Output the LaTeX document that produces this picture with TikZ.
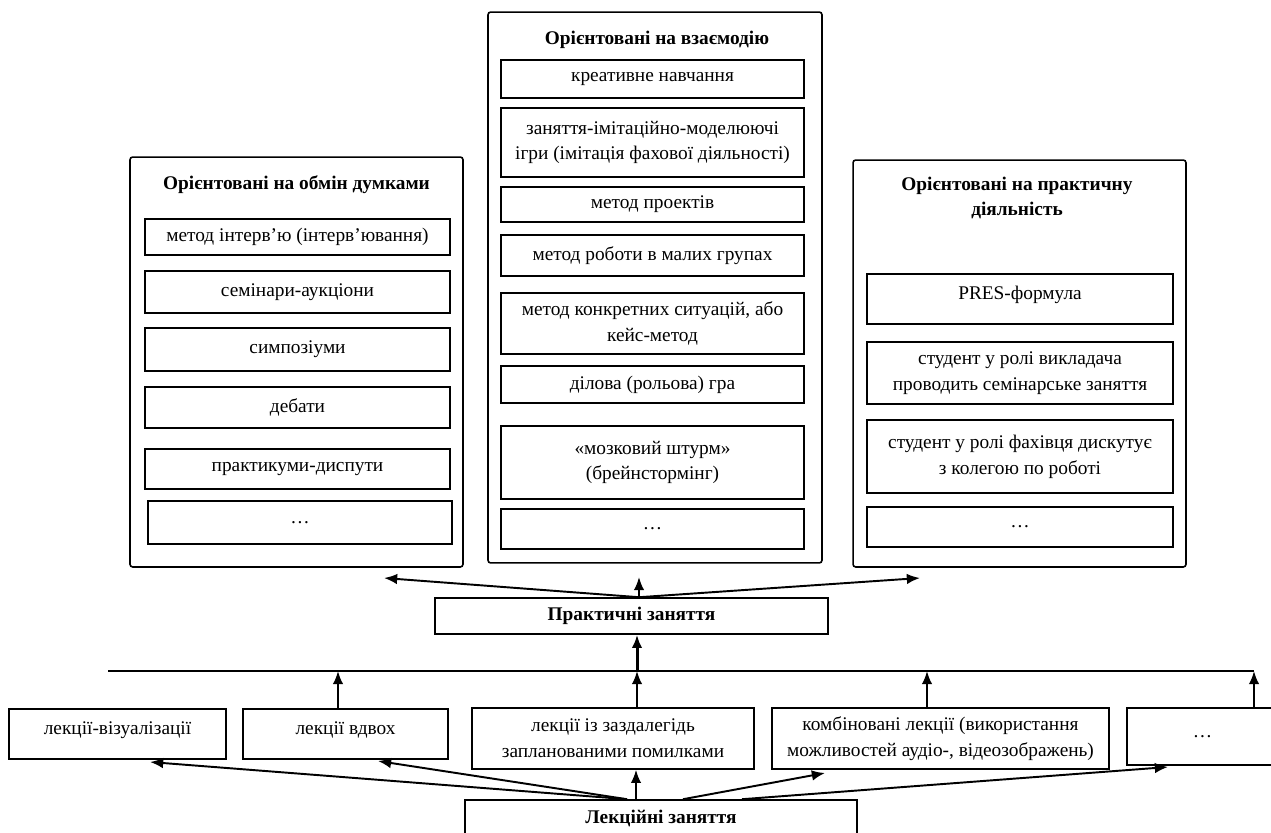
\documentclass[tikz,border=0pt]{standalone}
\usepackage{fontspec}
\setmainfont{Liberation Serif}
\usetikzlibrary{arrows.meta}
\newcommand\diagfont{\fontsize{11}{14.7}\selectfont}
\tikzset{
  group/.style={draw, line width=0.9pt, rounded corners=1.5pt},
  box/.style={draw, line width=0.9pt, inner sep=1pt},
  item/.style={box, align=center},
  upper/.style={text depth=7pt},
  head/.style={align=center, font=\diagfont\bfseries},
  arr/.style={-{Latex[length=7.5pt,width=6pt]}, line width=1.1pt},
}
\begin{document}
\begin{tikzpicture}[x=0.02cm, y=-0.02cm, font=\diagfont]
\useasboundingbox (0,0) rectangle (1271,832);

% Left column: exchange of opinions
\node[group, minimum width=6.66cm, minimum height=8.2cm] (obmin) at (296.5,362) {};
\node[head] (obminhead) at (296.5,185) {Орієнтовані на обмін думками};
\node[box, minimum width=6.1cm, minimum height=0.72cm] (interv) at (297.5,237) {метод інтерв'ю (інтерв'ювання)};
\node[box, minimum width=6.1cm, minimum height=0.84cm] (aukts) at (297.5,292) {семінари-аукціони};
\node[box, minimum width=6.1cm, minimum height=0.86cm] (symp) at (297.5,349.5) {симпозіуми};
\node[box, minimum width=6.1cm, minimum height=0.82cm] (debaty) at (297.5,407.5) {дебати};
\node[box, minimum width=6.1cm, minimum height=0.8cm] (dysp) at (297.5,469) {практикуми-диспути};
\node[box, minimum width=6.08cm, minimum height=0.86cm] (obdots) at (300,522.5) {\dots};

% Middle column: interaction
\node[group, minimum width=6.68cm, minimum height=11.02cm] (vzaem) at (655,287.5) {};
\node[head] (vzaemhead) at (657,40) {Орієнтовані на взаємодію};
\node[box, minimum width=6.06cm, minimum height=0.76cm] (kreat) at (652.5,79) {креативне навчання};
\node[item, minimum width=6.06cm, minimum height=1.38cm] (imit) at (652.5,142.5) {заняття-імітаційно-моделюючі\\ігри (імітація фахової діяльності)};
\node[box, minimum width=6.06cm, minimum height=0.7cm] (proekt) at (652.5,204.5) {метод проектів};
\node[box, minimum width=6.06cm, minimum height=0.82cm] (grupy) at (652.5,255.5) {метод роботи в малих групах};
\node[item, minimum width=6.06cm, minimum height=1.22cm] (keis) at (652.5,323.5) {метод конкретних ситуацій, або\\кейс-метод};
\node[box, minimum width=6.06cm, minimum height=0.74cm] (rol) at (652.5,384.5) {ділова (рольова) гра};
\node[item, minimum width=6.06cm, minimum height=1.46cm] (shturm) at (652.5,462.5) {«мозковий штурм»\\(брейнстормінг)};
\node[box, minimum width=6.06cm, minimum height=0.8cm] (vzdots) at (652.5,529) {\dots};

% Right column: practical activity
\node[group, minimum width=6.66cm, minimum height=8.14cm] (diial) at (1019.5,363.5) {};
\node[head] (diialhead) at (1017,198) {Орієнтовані на практичну\\діяльність};
\node[box, upper, minimum width=6.12cm, minimum height=1cm] (pres) at (1020,299) {PRES-формула};
\node[item, minimum width=6.12cm, minimum height=1.24cm] (vykl) at (1020,373) {студент у ролі викладача\\проводить семінарське заняття};
\node[item, minimum width=6.12cm, minimum height=1.46cm] (fakh) at (1020,456.5) {студент у ролі фахівця дискутує\\з колегою по роботі};
\node[box, minimum width=6.12cm, minimum height=0.8cm] (diadots) at (1020,527) {\dots};

% Practical classes
\node[box, font=\diagfont\bfseries, minimum width=7.86cm, minimum height=0.72cm] (prakt) at (631.5,616) {Практичні заняття};
\coordinate (tipL) at (384,578);
\coordinate (tipC) at (639,577);
\coordinate (tipR) at (920,578);
\draw[arr] (prakt.north -| tipC) -- (tipL);
\draw[arr] (prakt.north -| tipC) -- (tipC);
\draw[arr] (prakt.north -| tipC) -- (tipR);

% Lecture kinds
\node[box, upper, minimum width=4.34cm, minimum height=1cm] (vizual) at (117.5,734) {лекції-візуалізації};
\node[box, upper, minimum width=4.1cm, minimum height=1cm] (vdvoh) at (345.5,734) {лекції вдвох};
\node[item, minimum width=5.64cm, minimum height=1.22cm] (zazd) at (613,738.5) {лекції із заздалегідь\\запланованими помилками};
\node[item, minimum width=6.74cm, minimum height=1.22cm] (komb) at (940.5,738.5) {комбіновані лекції (використання\\можливостей аудіо-, відеозображень)};
\node[box, minimum width=3.02cm, minimum height=1.14cm] (lekdots) at (1202.5,736.5) {\dots};
\node[box, font=\diagfont\bfseries, minimum width=7.84cm, minimum height=0.72cm] (lek) at (661,818) {Лекційні заняття};

% Bus line joining lectures to practical classes
\coordinate (busL) at (108,671);
\coordinate (b2) at (338,671);
\coordinate (b3) at (637,671);
\coordinate (b4) at (927,671);
\coordinate (busR) at (1254,671);
\draw[line width=0.9pt] (busL) -- (busR);
\draw[arr] (vdvoh.north -| b2) -- (b2);
\draw[arr] (zazd.north -| b3) -- (b3);
\draw[arr] (komb.north -| b4) -- (b4);
\draw[arr] (lekdots.north -| busR) -- (busR);
\draw[arr, line width=1.7pt] (b3) -- (prakt.south -| b3);

% From lecture classes to lecture kinds
\coordinate (sL) at (627,800);
\coordinate (sC) at (636,800);
\coordinate (sR1) at (683,800);
\coordinate (sR2) at (742,800);
\coordinate (tip1) at (150,762);
\coordinate (tip2) at (378,761);
\coordinate (tip4) at (825,773);
\coordinate (tip5) at (1168,767);
\draw[arr] (lek.north -| sL) -- (tip1);
\draw[arr] (lek.north -| sL) -- (tip2);
\draw[arr] (lek.north -| sC) -- (zazd.south -| sC);
\draw[arr] (lek.north -| sR1) -- (tip4);
\draw[arr] (lek.north -| sR2) -- (tip5);

\end{tikzpicture}
\end{document}
